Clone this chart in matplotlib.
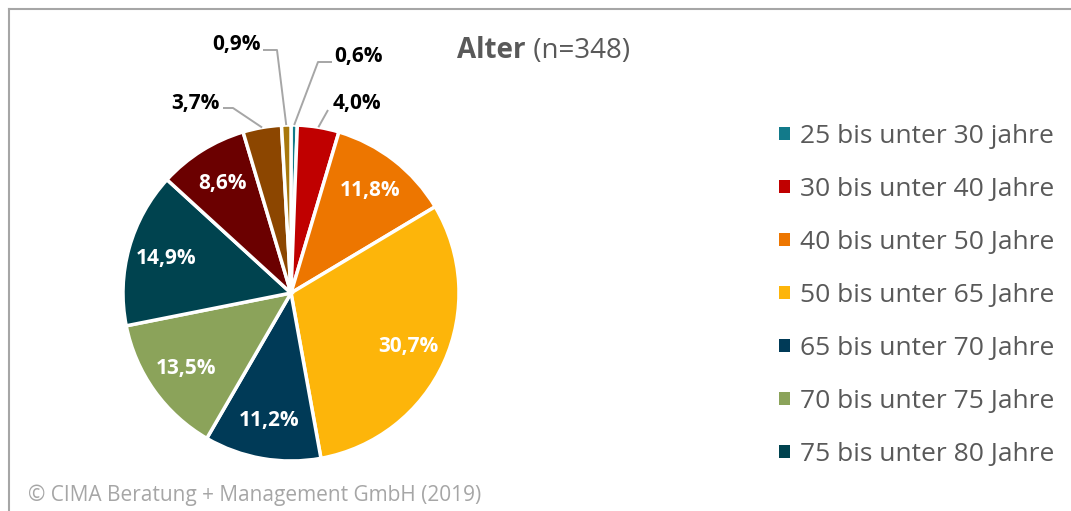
import matplotlib.pyplot as plt
from matplotlib.patches import Patch
from matplotlib.lines import Line2D
import numpy as np

plt.rcParams['font.family'] = ['Open Sans', 'DejaVu Sans']

# Daten
kategorien = ['25 bis unter 30 jahre', '30 bis unter 40 Jahre', '40 bis unter 50 Jahre',
              '50 bis unter 65 Jahre', '65 bis unter 70 Jahre', '70 bis unter 75 Jahre',
              '75 bis unter 80 Jahre', '80 bis unter 85 Jahre', '85 bis unter 90 Jahre',
              '90 Jahre und älter']
anteile = [0.6, 4.0, 11.8, 30.7, 11.2, 13.5, 14.9, 8.6, 3.7, 0.9]
farben = ['#127A8A', '#C00000', '#ED7600', '#FDB50A', '#003A57', '#8BA35A',
          '#00434F', '#6B0000', '#8C4600', '#A8780C']
titel = 'Alter'
n_text = ' (n=348)'
quelle = '© CIMA Beratung + Management GmbH (2019)'
anzahl_legende = 7

W, H = 1071, 511
fig = plt.figure(figsize=(W / 100, H / 100), dpi=100)
ax = fig.add_axes([0, 0, 1, 1])

cx, cy, r = 291, H - 293, 168
wedges, _ = ax.pie(anteile, colors=farben, startangle=90, counterclock=False,
                   center=(cx, cy), radius=r,
                   wedgeprops=dict(edgecolor='white', linewidth=2.5))
ax.set_xlim(0, W)
ax.set_ylim(0, H)
ax.set_aspect('equal')
ax.axis('off')

# Beschriftungen (aussen mit Fuehrungslinie)
aussen = {0: ((318, 62), (332, 62), 334, 56, 'left'),
          1: ((328, 110), (328, 110), 333, 103, 'left'),
          8: ((233, 108), (223, 108), 220, 103, 'right'),
          9: ((277, 50), (263, 50), 261, 44, 'right')}
for i, w in enumerate(wedges):
    theta = np.deg2rad((w.theta1 + w.theta2) / 2)
    txt = f'{anteile[i]:.1f}%'.replace('.', ',')
    if i in aussen:
        knick, ende, tx, ty, ha = aussen[i]
        px, py = cx + r * np.cos(theta), cy + r * np.sin(theta)
        ax.plot([px, knick[0], ende[0]], [py, H - knick[1], H - ende[1]],
                color='#A6A6A6', lw=1.4, solid_capstyle='butt')
        ax.text(tx, H - ty, txt, ha=ha, va='center', fontsize=15,
                fontweight='bold', color='black')
    else:
        d = 0.77 * r
        ax.text(cx + d * np.cos(theta), cy + d * np.sin(theta), txt,
                ha='center', va='center', fontsize=15, fontweight='bold',
                color='white')

# Titel
t1 = ax.text(457, H - 50, titel, ha='left', va='center', fontsize=20,
             fontweight='bold', color='#595959')
ax.annotate(n_text, xy=(1, 0), xycoords=t1, va='bottom', ha='left',
            fontsize=20, color='#595959')

# Legende
griffe = [Patch(facecolor=c) for c in farben[:anzahl_legende]]
ax.legend(griffe, kategorien[:anzahl_legende], loc='upper left',
          bbox_to_anchor=(779, H - 124), bbox_transform=ax.transData,
          frameon=False, fontsize=19, labelcolor='#595959', borderpad=0,
          borderaxespad=0, handlelength=0.42, handleheight=0.42,
          handletextpad=0.38, labelspacing=1.06)

# Quelle
ax.text(28, H - 495, quelle, ha='left', va='center', fontsize=15,
        color='#A6A6A6')

# Rahmen
fig.add_artist(Line2D([9 / W, 1], [1 - 9 / H, 1 - 9 / H], color='#A6A6A6', lw=1.5))
fig.add_artist(Line2D([9 / W, 9 / W], [0, 1 - 9 / H], color='#A6A6A6', lw=1.5))

fig.savefig('out.png', dpi=100)
